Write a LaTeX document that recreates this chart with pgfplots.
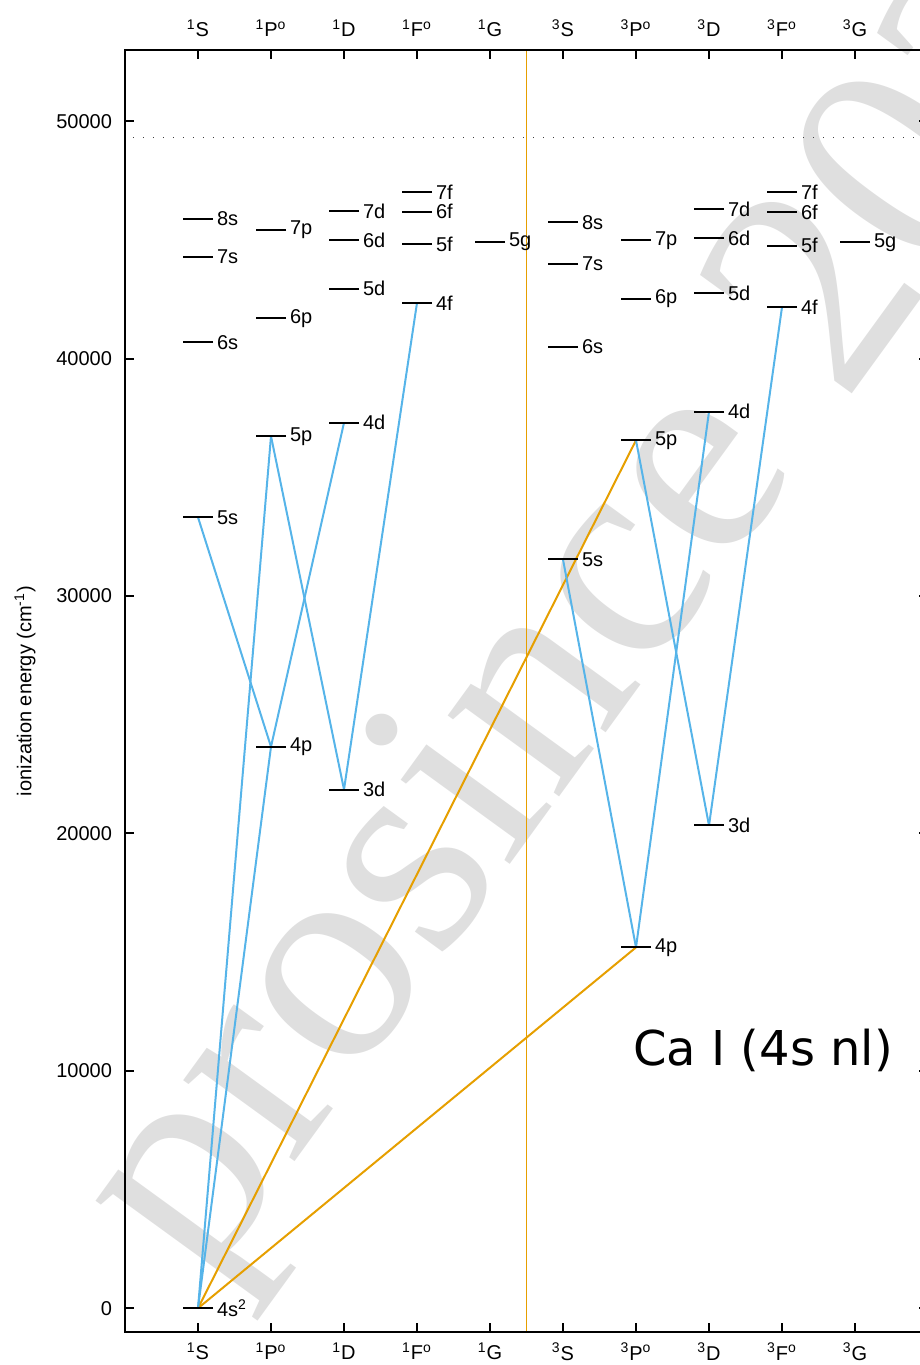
\documentclass[border=0pt]{standalone}
\usepackage{pgfplots}
\pgfplotsset{compat=1.18}
\usepackage{pgfplotstable}
\usepackage{fontspec}
\setmainfont{Liberation Sans}
\newfontfamily\djvfont{DejaVu Sans}
\newfontfamily\wmfont{Liberation Serif}

\definecolor{trblue}{RGB}{86,180,233}
\definecolor{trorange}{RGB}{230,159,0}

% term energies, cm^-1 (x = term column)
\pgfplotstableread{
x y lab
1 0 4s\textsuperscript{2}
1 33317 5s
1 40690 6s
1 44277 7s
1 45887 8s
2 23652 4p
2 36732 5p
2 41695 6p
2 45431 7p
3 21850 3d
3 37298 4d
3 42940 5d
3 44995 6d
3 46210 7d
4 42350 4f
4 44810 5f
4 46190 6f
4 47015 7f
5 44905 5g
6 31539 5s
6 40490 6s
6 43990 7s
6 45740 8s
7 15200 4p
7 36560 5p
7 42530 6p
7 44985 7p
8 20335 3d
8 37765 4d
8 42749 5d
8 45060 6d
8 46305 7d
9 42168 4f
9 44760 5f
9 46170 6f
9 47015 7f
10 44895 5g
}\levels

\pgfplotsset{grot/.style={
  at={(0,0)}, anchor=south west,
  scale only axis, width=401.5pt, height=641pt,
  xmin=0, xmax=11, ymin=-1000, ymax=53000,
  axis line style={line width=1pt},
  tick align=inside,
  major tick length=4.3pt,
  tick style={line width=1pt, black},
  xtick={1,2,3,4,5,6,7,8,9,10},
  xticklabels={{\textsuperscript{1}S},{\textsuperscript{1}P\textsuperscript{o}},{\textsuperscript{1}D},{\textsuperscript{1}F\textsuperscript{o}},{\textsuperscript{1}G},{\textsuperscript{3}S},{\textsuperscript{3}P\textsuperscript{o}},{\textsuperscript{3}D},{\textsuperscript{3}F\textsuperscript{o}},{\textsuperscript{3}G}},
}}

\begin{document}
\begin{tikzpicture}
\useasboundingbox (-62.5pt,-16.5pt) rectangle (397.5pt,666pt);
\begin{scope}
\clip (-62.5pt,-16.5pt) rectangle (397.5pt,666pt);
% watermark
\node[font=\wmfont\fontsize{150}{150}\selectfont, text=gray!25, rotate=54,
      anchor=base west, inner sep=0pt] at (39pt,22pt) {prosince 2025};
\end{scope}

\begin{axis}[grot,
  xtick pos=both, xticklabel pos=lower,
  xticklabel style={font=\fontsize{10}{12}\selectfont, yshift=-2pt},
  ytick pos=both, yticklabel pos=left,
  ytick={0,10000,20000,30000,40000,50000},
  scaled y ticks=false,
  /pgf/number format/1000 sep={},
  /pgf/number format/assume math mode=true,
  yticklabel style={font=\fontsize{10}{12}\selectfont, xshift=-3pt},
  ylabel={ionization energy (cm\textsuperscript{-1})},
  ylabel style={at={(axis description cs:-0.1245,0.5)}, anchor=center,
                font=\fontsize{10}{12}\selectfont},
]
% ionization limit
\addplot[black!75, line width=0.6pt, dash pattern=on 0.6pt off 4.4pt, dash phase=-4pt]
  coordinates {(0,49306) (11,49306)};
% singlet / triplet divider
\addplot[trorange, line width=0.5pt] coordinates {(5.5,-1000) (5.5,53000)};

% intercombination lines
\addplot[trorange, line width=1pt] coordinates {(1,0) (7,15200)};
\addplot[trorange, line width=1pt] coordinates {(1,0) (7,36560)};

% singlet transitions
\addplot[trblue, line width=1pt] coordinates {(1,0) (2,23652)};
\addplot[trblue, line width=1pt] coordinates {(1,0) (2,36732)};
\addplot[trblue, line width=1pt] coordinates {(1,33317) (2,23652)};
\addplot[trblue, line width=1pt] coordinates {(2,36732) (3,21850)};
\addplot[trblue, line width=1pt] coordinates {(2,23652) (3,37298)};
\addplot[trblue, line width=1pt] coordinates {(3,21850) (4,42350)};

% triplet transitions
\addplot[trblue, line width=1pt] coordinates {(6,31539) (7,15200)};
\addplot[trblue, line width=1pt] coordinates {(7,36560) (8,20335)};
\addplot[trblue, line width=1pt] coordinates {(7,15200) (8,37765)};
\addplot[trblue, line width=1pt] coordinates {(8,20335) (9,42168)};

% levels
\addplot[only marks, mark=-, mark size=7.5pt, mark options={line width=1pt, black},
  point meta=explicit symbolic, nodes near coords,
  every node near coord/.append style={anchor=west, inner sep=0pt, xshift=9pt,
     font=\fontsize{10}{12}\selectfont, text=black}]
  table[x=x, y=y, meta=lab] {\levels};

\node[font=\djvfont\fontsize{24}{28}\selectfont, anchor=base] at (axis cs:8.74,10245) {Ca I (4s nl)};
\end{axis}

% top term labels
\begin{axis}[grot, hide y axis, xtick pos=both, xticklabel pos=upper,
  xticklabel style={font=\fontsize{10}{12}\selectfont, yshift=3pt}]
\end{axis}
\end{tikzpicture}
\end{document}
